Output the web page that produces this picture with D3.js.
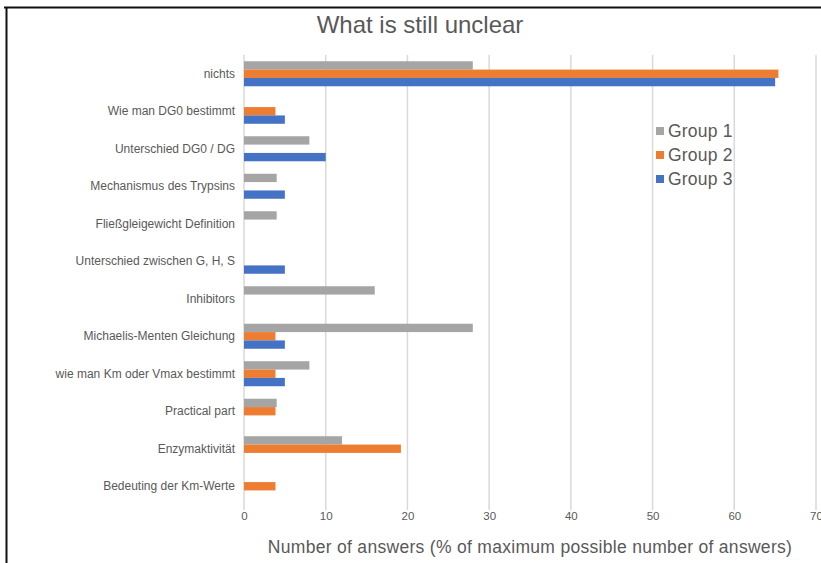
<!DOCTYPE html>
<html><head><meta charset="utf-8">
<script src="https://cdn.jsdelivr.net/npm/d3@7/dist/d3.min.js"></script>
<style>body{margin:0;background:#fff;} svg{display:block;}</style>
</head><body>
<script>
const categories = ["nichts","Wie man DG0 bestimmt","Unterschied DG0 / DG","Mechanismus des Trypsins","Fließgleigewicht Definition","Unterschied zwischen G, H, S","Inhibitors","Michaelis-Menten Gleichung","wie man Km oder Vmax bestimmt","Practical part","Enzymaktivität","Bedeuting der Km-Werte"];
const seriesNames = ["Group 1","Group 2","Group 3"];
const group1 = [28, 0, 8, 4, 4, 0, 16, 28, 8, 4, 12, 0];
const group2 = [65.4, 3.85, 0, 0, 0, 0, 0, 3.85, 3.85, 3.85, 19.2, 3.85];
const group3 = [65, 5, 10, 5, 0, 5, 0, 5, 5, 0, 0, 0];
const xTicks = [0,10,20,30,40,50,60,70];
const colors = ["#a5a5a5","#ed7d31","#4472c4"];
const series = [group1, group2, group3];

const W = 821, H = 563;
const svg = d3.select("body").append("svg").attr("width", W).attr("height", H);
const font = "'Liberation Sans', Arial, sans-serif";
const txt = "#595959";

// frame
svg.append("line").attr("x1",4).attr("x2",W).attr("y1",7.5).attr("y2",7.5).attr("stroke","#111").attr("stroke-width",2);
svg.append("line").attr("x1",6.5).attr("x2",6.5).attr("y1",7).attr("y2",H).attr("stroke","#111").attr("stroke-width",2);

const x = d3.scaleLinear().domain([0,70]).range([244,816]);
const y = d3.scaleBand().domain(categories).range([55,505]).paddingInner(0.333).paddingOuter(0.167);
const ySub = d3.scaleBand().domain(seriesNames).range([0, y.bandwidth()]);

// gridlines
svg.append("g").selectAll("line").data(xTicks).join("line")
  .attr("x1", d=>x(d)).attr("x2", d=>x(d)).attr("y1",55).attr("y2",510)
  .attr("stroke","#d9d9d9").attr("stroke-width",1.5);

// bars
const rows = svg.append("g").selectAll("g").data(categories).join("g")
  .attr("transform", c=>`translate(0,${y(c)})`);
rows.selectAll("rect").data((c,i)=>series.map((s,j)=>({v:s[i], j}))).join("rect")
  .filter(d=>d.v>0)
  .attr("x", x(0)).attr("width", d=>x(d.v)-x(0))
  .attr("y", d=>ySub(seriesNames[d.j])).attr("height", ySub.bandwidth())
  .attr("fill", d=>colors[d.j]);

// category labels
svg.append("g").selectAll("text").data(categories).join("text")
  .attr("x",235).attr("y", c=>y(c)+y.bandwidth()/2).attr("dy","0.35em")
  .attr("text-anchor","end").attr("font-family",font).attr("font-size",12).attr("fill",txt)
  .text(d=>d);

// x axis tick labels
const xAxis = d3.axisBottom(x).tickValues(xTicks).tickSize(0).tickPadding(0);
const ax = svg.append("g").attr("transform","translate(0,512)").call(xAxis);
ax.select(".domain").remove();
ax.selectAll("text").attr("font-family",font).attr("font-size",11.5).attr("fill",txt).attr("dy","0.71em");

// axis title
svg.append("text").attr("x",530).attr("y",553).attr("text-anchor","middle")
  .attr("font-family",font).attr("font-size",17.5).attr("letter-spacing",0.3).attr("fill",txt)
  .text("Number of answers (% of maximum possible number of answers)");

// title
svg.append("text").attr("x",420).attr("y",33).attr("text-anchor","middle")
  .attr("font-family",font).attr("font-size",24).attr("fill",txt)
  .text("What is still unclear");

// legend
const lg = svg.append("g").selectAll("g").data(seriesNames).join("g")
  .attr("transform",(d,i)=>`translate(656,${131+i*24})`);
lg.append("rect").attr("x",0).attr("y",-4).attr("width",8).attr("height",8).attr("fill",(d,i)=>colors[i]);
lg.append("text").attr("x",12).attr("y",0).attr("dy","0.35em")
  .attr("font-family",font).attr("font-size",17.5).attr("letter-spacing",0.2).attr("fill",txt).text(d=>d);
</script>
</body></html>
